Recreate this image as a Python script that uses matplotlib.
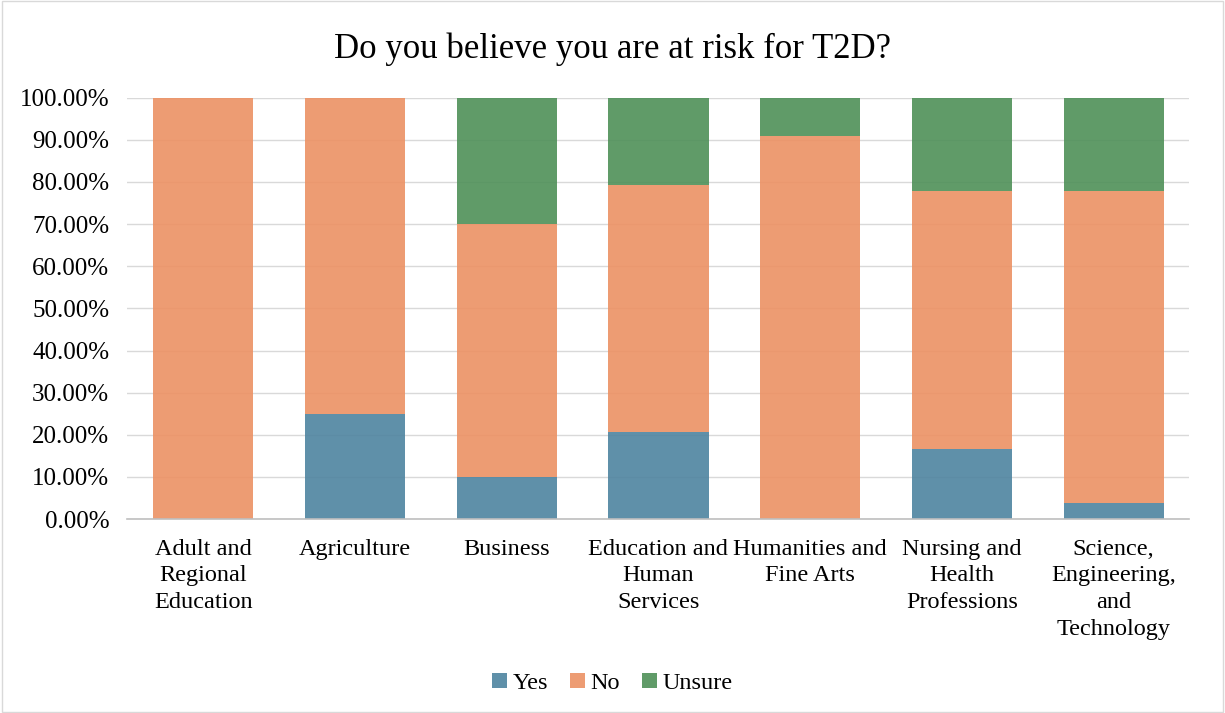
import matplotlib
matplotlib.use("Agg")
import matplotlib.pyplot as plt
from matplotlib.ticker import PercentFormatter
from matplotlib.patches import Rectangle
import numpy as np

plt.rcParams['font.family'] = ['Liberation Serif', 'DejaVu Serif']

categories = ["Adult and\nRegional\nEducation", "Agriculture", "Business",
              "Education and\nHuman\nServices", "Humanities and\nFine Arts",
              "Nursing and\nHealth\nProfessions", "Science,\nEngineering,\nand\nTechnology"]
yes = [0.0, 25.0, 10.0, 20.69, 0.0, 16.67, 3.70]
no = [100.0, 75.0, 60.0, 58.62, 90.91, 61.11, 74.07]
unsure = [0.0, 0.0, 30.0, 20.69, 9.09, 22.22, 22.23]

c_yes = "#4e84a0"
c_no = "#ec9164"
c_uns = "#4f9058"

fig = plt.figure(figsize=(12.25, 7.13), dpi=100)
ax = fig.add_axes([0.104, 0.272, 0.867, 0.591])

x = np.arange(len(categories))
w = 0.66
ax.bar(x, yes, w, color=c_yes, alpha=0.9, label="Yes", zorder=2)
ax.bar(x, no, w, bottom=yes, color=c_no, alpha=0.9, label="No", zorder=2)
ax.bar(x, unsure, w, bottom=np.array(yes) + np.array(no), color=c_uns, alpha=0.9,
       label="Unsure", zorder=2)

ax.set_xlim(-0.5, len(categories) - 0.5)
ax.set_ylim(0, 100)
ax.set_yticks(np.arange(0, 101, 10))
ax.yaxis.set_major_formatter(PercentFormatter(decimals=2))
ax.grid(axis='y', color='#d9d9d9', linewidth=1, zorder=0)
ax.set_xticks(x)
ax.set_xticklabels(categories, fontsize=17.5, va='top', linespacing=1.36)
ax.tick_params(axis='y', labelsize=18, length=0, pad=13)
ax.tick_params(axis='x', length=0, pad=14)
for s in ['top', 'right', 'left']:
    ax.spines[s].set_visible(False)
ax.spines['bottom'].set_color('#bfbfbf')
ax.spines['bottom'].set_linewidth(1.2)

fig.suptitle("Do you believe you are at risk for T2D?", fontsize=25, y=0.955)
fig.legend(loc='lower center', bbox_to_anchor=(0.5, -0.004), ncol=3, frameon=False,
           fontsize=17.5, handlelength=0.6, handleheight=0.6, handletextpad=0.25,
           columnspacing=0.9)

fig.patches.append(Rectangle((0.002, 0.002), 0.996, 0.996, transform=fig.transFigure,
                             fill=False, edgecolor='#d9d9d9', linewidth=1))

fig.savefig("out.png", dpi=100)
